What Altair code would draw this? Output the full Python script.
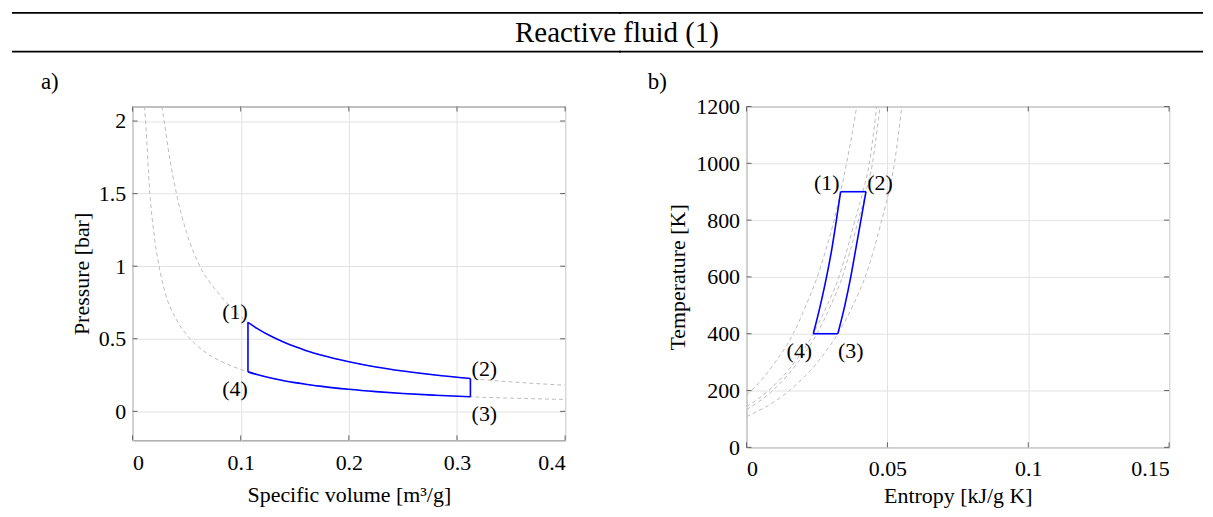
import altair as alt
import pandas as pd

FONT = "Liberation Serif"

# ---------------- Panel a) : pressure vs specific volume ----------------
# isotherm through states (1) and (2)
iso_hi_v = [0.027, 0.0292, 0.034, 0.0406, 0.050, 0.0622, 0.0787, 0.0867, 0.1067, 0.115, 0.13, 0.14,
            0.15, 0.16, 0.175, 0.2, 0.225, 0.25, 0.28, 0.3124, 0.35, 0.4]
iso_hi_p = [2.10, 2.00, 1.76, 1.50, 1.23, 1.00, 0.82, 0.75, 0.613, 0.572, 0.51, 0.476,
            0.446, 0.420, 0.387, 0.342, 0.306, 0.278, 0.25, 0.226, 0.203, 0.18]
# isotherm through states (4) and (3)
iso_lo_v = [0.011, 0.012, 0.016, 0.020, 0.0245, 0.030, 0.040, 0.0526, 0.065, 0.0803, 0.0925,
            0.1067, 0.115, 0.13, 0.14, 0.15, 0.16, 0.175, 0.2, 0.225, 0.25, 0.28, 0.3124, 0.35, 0.4]
iso_lo_p = [2.10, 2.00, 1.50, 1.21, 1.00, 0.82, 0.64, 0.505, 0.42, 0.35, 0.31,
            0.272, 0.254, 0.226, 0.211, 0.198, 0.187, 0.172, 0.152, 0.136, 0.123, 0.111, 0.100, 0.091, 0.082]
# cycle states (1)..(4)
state_names = ["(1)", "(2)", "(3)", "(4)"]
state_v = [0.1067, 0.3124, 0.3124, 0.1067]
state_p = [0.613, 0.226, 0.100, 0.272]
a_xticks = [0, 0.1, 0.2, 0.3, 0.4]
a_yticks = [0, 0.5, 1, 1.5, 2]

# ---------------- Panel b) : temperature vs entropy ----------------
isoA_s = [0.0, 0.0017, 0.0064, 0.0102, 0.0166, 0.0211, 0.0251, 0.0283, 0.0311, 0.0334, 0.0355, 0.0374, 0.0391]
isoA_T = [185, 200, 250, 300, 400, 500, 600, 700, 800, 900, 1000, 1100, 1200]
isoB_s = [0.0, 0.0078, 0.0171, 0.0237, 0.0286, 0.0328, 0.0358, 0.0385, 0.0413, 0.0436, 0.0450, 0.0462]
isoB_T = [143, 200, 300, 400, 500, 600, 700, 800, 900, 1000, 1100, 1200]
isoC_s = [0.0, 0.0093, 0.0183, 0.0250, 0.0299, 0.0340, 0.0370, 0.0397, 0.0424, 0.0447, 0.0461, 0.0474]
isoC_T = [133, 200, 300, 400, 500, 600, 700, 800, 900, 1000, 1100, 1200]
isoE_s = [0.0, 0.0152, 0.0252, 0.0324, 0.0378, 0.0421, 0.0453, 0.0480, 0.0505, 0.0525, 0.0539, 0.0551]
isoE_T = [108, 200, 300, 400, 500, 600, 700, 800, 900, 1000, 1100, 1200]
# cycle: isochore 4->1 and isochore 3->2
left_s = [0.0237, 0.0262, 0.0284, 0.0303, 0.0319, 0.0334]
left_T = [400, 500, 600, 700, 800, 900]
right_s = [0.0324, 0.0349, 0.0370, 0.0388, 0.0406, 0.0424]
right_T = [400, 500, 600, 700, 800, 900]
state_s = [0.0334, 0.0424, 0.0324, 0.0237]
state_T = [900, 900, 400, 400]
b_xticks = [0, 0.05, 0.1, 0.15]
b_yticks = [0, 200, 400, 600, 800, 1000, 1200]

GRAY = "#bdbdbd"
BLUE = "#0000ff"
DASH = [4, 3]


def frame(rows):
    return pd.DataFrame(rows)


# ---------- build tables for panel a ----------
a_iso = frame(
    [{"x": v, "y": p, "c": "hi"} for v, p in zip(iso_hi_v, iso_hi_p)]
    + [{"x": v, "y": p, "c": "lo"} for v, p in zip(iso_lo_v, iso_lo_p)]
)
v1, v2 = state_v[0], state_v[1]
a_cyc_rows = []
a_cyc_rows += [{"x": v, "y": p, "s": "12"} for v, p in zip(iso_hi_v, iso_hi_p) if v1 <= v <= v2]
a_cyc_rows += [{"x": v, "y": p, "s": "43"} for v, p in zip(iso_lo_v, iso_lo_p) if v1 <= v <= v2]
a_cyc_rows += [{"x": state_v[1], "y": state_p[1], "s": "23"}, {"x": state_v[2], "y": state_p[2], "s": "23"}]
a_cyc_rows += [{"x": state_v[3], "y": state_p[3], "s": "41"}, {"x": state_v[0], "y": state_p[0], "s": "41"}]
a_cyc = frame(a_cyc_rows)
a_states = frame([{"x": v, "y": p, "n": n} for n, v, p in zip(state_names, state_v, state_p)])

# ---------- build tables for panel b ----------
b_iso = frame(
    [{"x": s, "y": t, "c": "A"} for s, t in zip(isoA_s, isoA_T)]
    + [{"x": s, "y": t, "c": "B"} for s, t in zip(isoB_s, isoB_T)]
    + [{"x": s, "y": t, "c": "C"} for s, t in zip(isoC_s, isoC_T)]
    + [{"x": s, "y": t, "c": "E"} for s, t in zip(isoE_s, isoE_T)]
)
b_cyc = frame(
    [{"x": s, "y": t, "s": "41"} for s, t in zip(left_s, left_T)]
    + [{"x": s, "y": t, "s": "32"} for s, t in zip(right_s, right_T)]
    + [{"x": state_s[0], "y": state_T[0], "s": "12"}, {"x": state_s[1], "y": state_T[1], "s": "12"}]
    + [{"x": state_s[2], "y": state_T[2], "s": "34"}, {"x": state_s[3], "y": state_T[3], "s": "34"}]
)
b_states = frame([{"x": s, "y": t, "n": n} for n, s, t in zip(state_names, state_s, state_T)])

LABEXPR = "toString(datum.value)"


def panel(iso, cyc, states, xdom, ydom, xticks, yticks, xtitle, ytitle,
          w, h, xlabpad, xtitlepad, ylabpad, ytitlepad, label_offsets,
          letter, letter_x, rule_x0, rule_x1, title_here):
    X = alt.X("x:Q", scale=alt.Scale(domain=xdom, nice=False, zero=False),
              axis=alt.Axis(values=xticks, labelExpr=LABEXPR, title=xtitle,
                            labelPadding=xlabpad, titlePadding=xtitlepad))
    Y = alt.Y("y:Q", scale=alt.Scale(domain=ydom, nice=False, zero=False),
              axis=alt.Axis(values=yticks, labelExpr=LABEXPR, title=ytitle,
                            labelPadding=ylabpad, titlePadding=ytitlepad))

    iso_layer = alt.Chart(iso).mark_line(
        color=GRAY, strokeWidth=1, strokeDash=DASH, interpolate="monotone", clip=True
    ).encode(x=X, y=Y, detail="c:N")

    cyc_layer = alt.Chart(cyc).mark_line(
        color=BLUE, strokeWidth=1.6, interpolate="monotone"
    ).encode(x=X, y=Y, detail="s:N")

    layers = [iso_layer, cyc_layer]
    for name, (dx, dy) in label_offsets.items():
        layers.append(
            alt.Chart(states).transform_filter(alt.datum.n == name).mark_text(
                font=FONT, fontSize=22, color="black", dx=dx, dy=dy,
                align="center", baseline="middle"
            ).encode(x=X, y=Y, text="n:N")
        )

    # inward ticks (box style)
    xt = pd.DataFrame({"x": xticks})
    yt = pd.DataFrame({"y": yticks})
    tick_col = "#606060"
    layers.append(alt.Chart(xt).mark_rule(color=tick_col, strokeWidth=1).encode(
        x=X, y=alt.value(0), y2=alt.value(5)))
    layers.append(alt.Chart(xt).mark_rule(color=tick_col, strokeWidth=1).encode(
        x=X, y=alt.value(h - 5), y2=alt.value(h)))
    layers.append(alt.Chart(yt).mark_rule(color=tick_col, strokeWidth=1).encode(
        y=Y, x=alt.value(0), x2=alt.value(5)))
    layers.append(alt.Chart(yt).mark_rule(color=tick_col, strokeWidth=1).encode(
        y=Y, x=alt.value(w - 5), x2=alt.value(w)))

    # header rules and panel letter
    one = pd.DataFrame({"k": [0]})
    for yy in (-94, -55):
        layers.append(alt.Chart(one).mark_rule(color="black", strokeWidth=1.8).encode(
            x=alt.value(rule_x0), x2=alt.value(rule_x1), y=alt.value(yy)))
    layers.append(alt.Chart(one).mark_text(
        text=letter, font=FONT, fontSize=23, align="left", baseline="middle", color="black"
    ).encode(x=alt.value(letter_x), y=alt.value(-25)))
    if title_here is not None:
        layers.append(alt.Chart(one).mark_text(
            text="Reactive fluid (1)", font=FONT, fontSize=29, align="center",
            baseline="middle", color="black"
        ).encode(x=alt.value(title_here), y=alt.value(-74)))

    return alt.layer(*layers).properties(width=w, height=h)


chart_a = panel(
    a_iso, a_cyc, a_states, [0, 0.4], [-0.2, 2.1], a_xticks, a_yticks,
    "Specific volume [m³/g]", "Pressure [bar]", 434, 335,
    xlabpad=12, xtitlepad=11, ylabpad=7, ytitlepad=5,
    label_offsets={"(1)": (-13, -10), "(2)": (14, -10), "(3)": (14, 17), "(4)": (-13, 17)},
    letter="a)", letter_x=-92, rule_x0=-121, rule_x1=490, title_here=486,
)
chart_b = panel(
    b_iso, b_cyc, b_states, [0, 0.15], [0, 1200], b_xticks, b_yticks,
    "Entropy [kJ/g K]", "Temperature [K]", 424, 342,
    xlabpad=11, xtitlepad=6, ylabpad=7, ytitlepad=6,
    label_offsets={"(1)": (-14, -9), "(2)": (14, -9), "(3)": (13, 17), "(4)": (-14, 17)},
    letter="b)", letter_x=-99, rule_x0=-128, rule_x1=458, title_here=None,
)

chart = alt.hconcat(chart_a, chart_b, spacing=182, bounds="flush").properties(
    padding={"left": 2, "top": 2, "right": 0, "bottom": 0}
).configure_view(
    stroke="#808080", strokeWidth=1
).configure_axis(
    grid=True, gridColor="#e2e2e2", gridWidth=1, domain=False, ticks=False, tickSize=0,
    labelFont=FONT, labelFontSize=22, labelColor="black",
    titleFont=FONT, titleFontSize=22, titleFontWeight="normal", titleColor="black",
)

chart.save("out.html", embed_options={"renderer": "svg", "actions": False})
